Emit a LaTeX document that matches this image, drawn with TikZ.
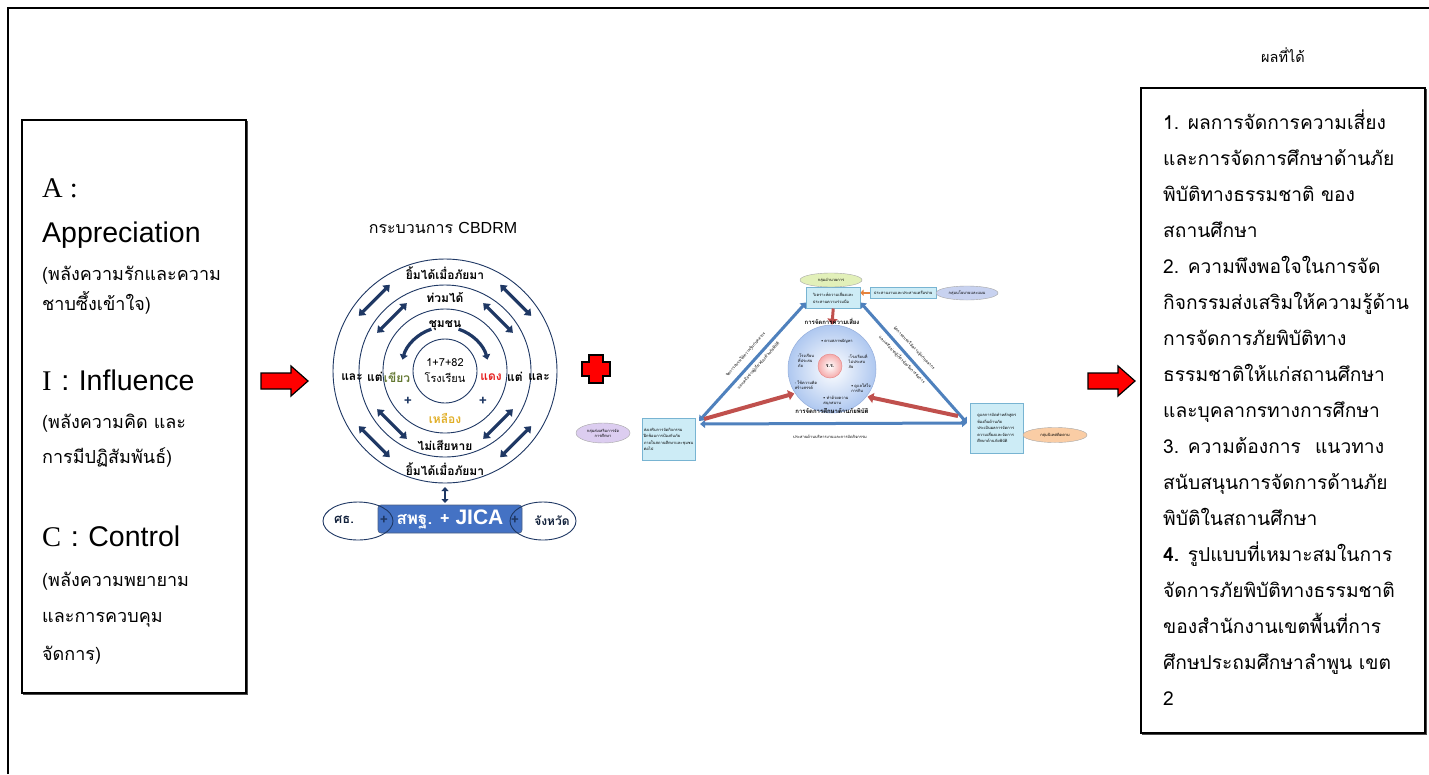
\documentclass[tikz,border=0pt]{standalone}
\usepackage{fontspec}
\setmainfont{Loma}[Script=Thai]
\newfontfamily\serifA{Liberation Serif}
\newfontfamily\sansL{Liberation Sans}
\usetikzlibrary{arrows.meta,shapes.geometric,calc}
\definecolor{navy}{RGB}{31,56,100}
\definecolor{midblue}{RGB}{68,114,196}
\definecolor{triblue}{RGB}{79,129,189}
\definecolor{trired}{RGB}{192,80,77}
\definecolor{cyanfill}{RGB}{205,236,246}
\definecolor{cyanline}{RGB}{120,180,210}
\definecolor{olive}{RGB}{100,120,50}
\definecolor{gold}{RGB}{225,175,40}
\definecolor{redtxt}{RGB}{230,30,30}
\definecolor{orangearr}{RGB}{230,130,60}
\definecolor{greenell}{RGB}{226,240,185}
\definecolor{blueell}{RGB}{200,210,240}
\definecolor{lavell}{RGB}{220,205,240}
\definecolor{peachell}{RGB}{250,205,165}
\definecolor{circline}{RGB}{150,175,220}
\definecolor{circfill}{RGB}{175,200,240}
\definecolor{pinkline}{RGB}{230,140,140}
\definecolor{pinkfill}{RGB}{245,170,170}
\begin{document}
\begin{tikzpicture}[x=1pt,y=-1pt,
  btxt/.style={anchor=base west,inner sep=0pt,font=\fontsize{18}{20}\selectfont},
  rtxt/.style={anchor=base west,inner sep=0pt,font=\fontsize{19.2}{20}\selectfont},
  bigl/.style={anchor=base west,inner sep=0pt,font=\fontsize{28.5}{30}\selectfont},
  ringtxt/.style={inner sep=0pt,font=\fontsize{12}{14}\selectfont\bfseries},
  dblarrow/.style={navy,line width=3.2pt,{Triangle[length=6pt,width=9pt]}-{Triangle[length=6pt,width=9pt]}},
  redblock/.style={fill=red,draw=black,line width=1.2pt,line join=miter},
  cbox/.style={fill=cyanfill,draw=cyanline,line width=0.5pt,inner sep=1.5pt,align=left,font=\fontsize{4}{6.5}\selectfont},
  tiny/.style={inner sep=0pt,font=\fontsize{4}{5}\selectfont},
  diag/.style={inner sep=0pt,align=center,font=\fontsize{4}{17}\selectfont},
  ell/.style={ellipse,draw=gray!70,line width=0.4pt,inner sep=0pt,font=\fontsize{4}{5}\selectfont,align=center},
  triarrow/.style={triblue,line width=3pt,{Triangle[length=5pt,width=8pt]}-{Triangle[length=5pt,width=8pt]}},
  redarr/.style={trired,line width=4pt,-{Triangle[length=6pt,width=10pt]}}
]
\useasboundingbox (0,0) rectangle (1429,774);
\fill[white] (0,0) rectangle (1429,774);
% outer frame
\draw[line width=1.5pt] (8,774) -- (8,8) -- (1429,8);

% ---------- left box ----------
\draw[line width=1.3pt] (22,120) rectangle (246,693);
\draw[line width=1pt,black!70] (23,694.5) -- (247.5,694.5) -- (247.5,121);
\node[bigl,font=\fontsize{28.5}{30}\selectfont\serifA] (a1) at (42,197) {A :};
\node[bigl,font=\fontsize{28.5}{30}\selectfont\sansL] (a2) at (42,242) {Appreciation};
\node[btxt] (a3) at (42,280) {(พลังความรักและความ};
\node[btxt] (a4) at (42,310) {ชาบซึ้งเข้าใจ)};
\node[bigl] (i1) at (42,390) {{\serifA I} : {\sansL Influence}};
\node[btxt] (i2) at (42,428) {(พลังความคิด และ};
\node[btxt] (i3) at (42,463) {การมีปฏิสัมพันธ์)};
\node[bigl] (c1) at (42,546) {{\serifA C} : {\sansL Control}};
\node[btxt] (c2) at (42,586) {(พลังความพยายาม};
\node[btxt] (c3) at (42,622) {และการควบคุม};
\node[btxt] (c4) at (42,660) {จัดการ)};

% ---------- red block arrows ----------
\draw[redblock] (261,373) -- (291,373) -- (291,366) -- (308,381) -- (291,396) -- (291,389) -- (261,389) -- cycle;
\draw[redblock] (1088,373) -- (1118,373) -- (1118,366) -- (1135,381) -- (1118,396) -- (1118,389) -- (1088,389) -- cycle;

% ---------- CBDRM circles ----------
\node[inner sep=0pt,font=\fontsize{16}{18}\selectfont] (title) at (443,228) {กระบวนการ {\sansL CBDRM}};
\coordinate (C) at (445,371);
\draw[navy,line width=0.9pt] (C) circle[radius=112];
\draw[navy,line width=0.9pt] (C) circle[radius=86];
\draw[navy,line width=0.9pt] (C) circle[radius=62];
\draw[navy,line width=0.9pt] (C) circle[radius=32];
\node[ringtxt] (t1) at (445,273) {ยิ้มได้เมื่อภัยมา};
\node[ringtxt] (t2) at (445,298) {ท่วมได้};
\node[ringtxt] (t3) at (445,326) {ชุมชน};
\node[inner sep=0pt,font=\fontsize{11}{16}\selectfont,align=center] (t4) at (445,371) {1+7+82\\โรงเรียน};
\node[ringtxt] (l1) at (352,377) {และ};
\node[ringtxt] (l2) at (375,377) {แต่};
\node[ringtxt,text=olive] (l3) at (397,377) {เขียว};
\node[ringtxt,text=redtxt] (r3) at (491,377) {แดง};
\node[ringtxt] (r2) at (515,377) {แต่};
\node[ringtxt] (r1) at (539,377) {และ};
\node[ringtxt,text=navy,font=\fontsize{14}{14}\selectfont\bfseries] (p1) at (408,401) {+};
\node[ringtxt,text=navy,font=\fontsize{14}{14}\selectfont\bfseries] (p2) at (483,401) {+};
\node[ringtxt,text=gold] (y1) at (445,418) {เหลือง};
\node[ringtxt] (b1) at (445,445) {ไม่เสียหาย};
\node[ringtxt] (b2) at (445,469) {ยิ้มได้เมื่อภัยมา};
% curved arrows
\draw[navy,line width=3.2pt,-{Triangle[length=5pt,width=8pt]}] ($(C)+(252:44)$) arc[start angle=252,end angle=195,radius=44];
\draw[navy,line width=3.2pt,-{Triangle[length=5pt,width=8pt]}] ($(C)+(288:44)$) arc[start angle=288,end angle=345,radius=44];
% tangential double arrows
\foreach \a in {45,135,225,315}{
  \draw[dblarrow] ($(C)+(\a:100)+(\a+90:22)$) -- ($(C)+(\a:100)+(\a-90:22)$);
  \draw[dblarrow] ($(C)+(\a:75)+(\a+90:21)$) -- ($(C)+(\a:75)+(\a-90:21)$);
}
% bottom group
\draw[navy,line width=2.5pt,{Triangle[length=4pt,width=7pt]}-{Triangle[length=4pt,width=7pt]}] (445,487) -- (445,503);
\node[fill=midblue,draw=navy!80,line width=0.6pt,rounded corners=3pt,minimum width=144pt,minimum height=28pt,inner sep=0pt,text=white,font=\fontsize{17}{18}\selectfont\bfseries] (sp) at (450,519) {สพฐ. + {\sansL\bfseries\fontsize{21}{21}\selectfont JICA}};
\node[ellipse,draw=navy,line width=0.9pt,minimum width=70pt,minimum height=38pt] (moe) at (358,521) {};
\node[ellipse,draw=navy,line width=0.9pt,minimum width=66pt,minimum height=38pt] (prov) at (543,521) {};
\node[inner sep=0pt,font=\fontsize{13}{14}\selectfont\bfseries,text=navy!60!black] (moet) at (344,520) {ศธ.};
\node[inner sep=0pt,font=\fontsize{12}{14}\selectfont\bfseries,text=navy!60!black] (provt) at (552,521) {จังหวัด};
\node[inner sep=0pt,font=\fontsize{14}{14}\selectfont\bfseries,text=navy] (pl) at (384,520) {+};
\node[inner sep=0pt,font=\fontsize{14}{14}\selectfont\bfseries,text=navy] (pr) at (515,520) {+};

% ---------- red cross ----------
\draw[redblock] (589,355) -- (603,355) -- (603,362) -- (610,362) -- (610,376) -- (603,376) -- (603,383) -- (589,383) -- (589,376) -- (582,376) -- (582,362) -- (589,362) -- cycle;

% ---------- triangle diagram ----------
\node[cbox,minimum width=54pt,minimum height=21pt,anchor=north west] (tb) at (806,287) {วิเคราะห์ความเสี่ยงและ\\ประสานความร่วมมือ};
\node[ell,fill=greenell,minimum width=62pt,minimum height=14pt] (tel) at (831,280) {กลุ่มอำนวยการ};
\node[cbox,minimum width=66pt,minimum height=11pt,anchor=north west] (trb) at (870,287) {ประสานงานและประสานเครือข่าย};
\node[ell,fill=blueell,minimum width=62pt,minimum height=14pt] (tre) at (967,293) {กลุ่มนโยบายและแผน};
\draw[orangearr,line width=2.5pt,-{Triangle[length=3pt,width=6pt]}] (trb.west) -- (tb.east|-trb.west);
\node[circle,draw=circline,line width=0.5pt,inner color=white,outer color=circfill,minimum size=88pt] (cc) at (832,369) {};
\node[circle,draw=pinkline,line width=0.5pt,inner color=white,outer color=pinkfill,minimum size=24pt,inner sep=0pt,font=\fontsize{5}{5}\selectfont\bfseries] (rr) at (830,366) {ร.ร.};
\draw[redarr,line width=3pt] (tb.south) -- (cc.north);
\node[tiny,font=\fontsize{6}{6}\selectfont\bfseries] (arc1) at (832,321) {การจัดการความเสี่ยง};
\node[tiny,font=\fontsize{6}{6}\selectfont\bfseries] (arc2) at (832,411) {การจัดการศึกษาด้านภัยพิบัติ};
\node[tiny] (bu1) at (837,341) {• ตามสภาพปัญหา};
\node[tiny,align=left] (bu2) at (806,361) {-โรงเรียน\\ที่ประสบ\\ภัย};
\node[tiny,align=left] (bu3) at (858,361) {-โรงเรียนที่\\ไม่ประสบ\\ภัย};
\node[tiny,align=left] (bu4) at (806,385) {- ใช้ความคิด\\สร้างสรรค์};
\node[tiny,align=left] (bu5) at (861,388) {• ดูแลใส่ใจ\\การกิน};
\node[tiny,align=left] (bu6) at (836,401) {• ทำด้วยความ\\สนุกสนาน};
\node[cbox,minimum width=51pt,minimum height=42pt,anchor=north west] (lb) at (642,418) {ส่งเสริมการจัดกิจกรรม\\ฝึกซ้อมการป้องกันภัย\\ภายในสถานศึกษาและชุมชน\\ต่อไป};
\node[ell,fill=lavell,minimum width=54pt,minimum height=20pt] (lel) at (603,433) {กลุ่มส่งเสริมการจัด\\การศึกษา};
\node[cbox,minimum width=53pt,minimum height=50pt,anchor=north west] (rb) at (970,403) {ดูแลการจัดทำหลักสูตร\\ท้องถิ่นด้านภัย\\ประเมินผลการจัดการ\\ความเสี่ยงและจัดการ\\ศึกษาด้านภัยพิบัติ};
\node[ell,fill=peachell,minimum width=64pt,minimum height=15pt] (rel) at (1055,435) {กลุ่มนิเทศติดตาม};
\draw[triarrow] ($(lb.north east)+(4,3)$) -- ($(tb.south west)+(0,-6)$);
\draw[triarrow] ($(tb.south east)+(0,-6)$) -- ($(rb.north west)+(-3,20)$);
\draw[triarrow] ($(lb.north east)+(5,6)$) -- ($(rb.north west)+(-3,20)$);
\draw[redarr] ($(lb.north east)+(9,1)$) -- ($(cc.center)+(147:45)$);
\draw[redarr] ($(rb.north west)+(-12,13)$) -- ($(cc.center)+(38:45)$);
\node[diag,rotate=48.5] (dl) at (752,360) {จัดการอบรมให้ความรู้แก่บุคลากร\\และเครือข่ายผู้เกี่ยวข้องด้านภัยพิบัติ};
\node[diag,rotate=-46] (dr) at (908,354) {จัดการอบรมให้ความรู้แก่บุคลากร\\และเครือข่ายผู้เกี่ยวข้องในการจัดการ};
\node[tiny] (bl) at (830,437) {ประสานด้านบริหารงานและการจัดกิจกรรม};

% ---------- right box ----------
\node[inner sep=0pt,font=\fontsize{14.5}{16}\selectfont] (res) at (1283,55) {ผลที่ได้};
\draw[line width=1.3pt] (1141,88) rectangle (1425,733);
\draw[line width=1pt,black!70] (1142,734.5) -- (1426.5,734.5) -- (1426.5,89);
\node[rtxt] (o1) at (1163,129) {1. ผลการจัดการความเสี่ยง};
\node[rtxt] (o2) at (1163,165) {และการจัดการศึกษาด้านภัย};
\node[rtxt] (o3) at (1163,201) {พิบัติทางธรรมชาติ ของ};
\node[rtxt] (o4) at (1163,237) {สถานศึกษา};
\node[rtxt] (o5) at (1163,273) {2. ความพึงพอใจในการจัด};
\node[rtxt] (o6) at (1163,309) {กิจกรรมส่งเสริมให้ความรู้ด้าน};
\node[rtxt] (o7) at (1163,345) {การจัดการภัยพิบัติทาง};
\node[rtxt] (o8) at (1163,381) {ธรรมชาติให้แก่สถานศึกษา};
\node[rtxt] (o9) at (1163,417) {และบุคลากรทางการศึกษา};
\node[rtxt] (o10) at (1163,453) {3. ความต้องการ\hspace{14pt}แนวทาง};
\node[rtxt] (o11) at (1163,489) {สนับสนุนการจัดการด้านภัย};
\node[rtxt] (o12) at (1163,525) {พิบัติในสถานศึกษา};
\node[rtxt] (o13) at (1163,561) {\textbf{4.} รูปแบบที่เหมาะสมในการ};
\node[rtxt] (o14) at (1163,597) {จัดการภัยพิบัติทางธรรมชาติ};
\node[rtxt] (o15) at (1163,633) {ของสำนักงานเขตพื้นที่การ};
\node[rtxt] (o16) at (1163,669) {ศึกษประถมศึกษาลำพูน เขต};
\node[rtxt] (o17) at (1163,705) {2};
\end{tikzpicture}
\end{document}
